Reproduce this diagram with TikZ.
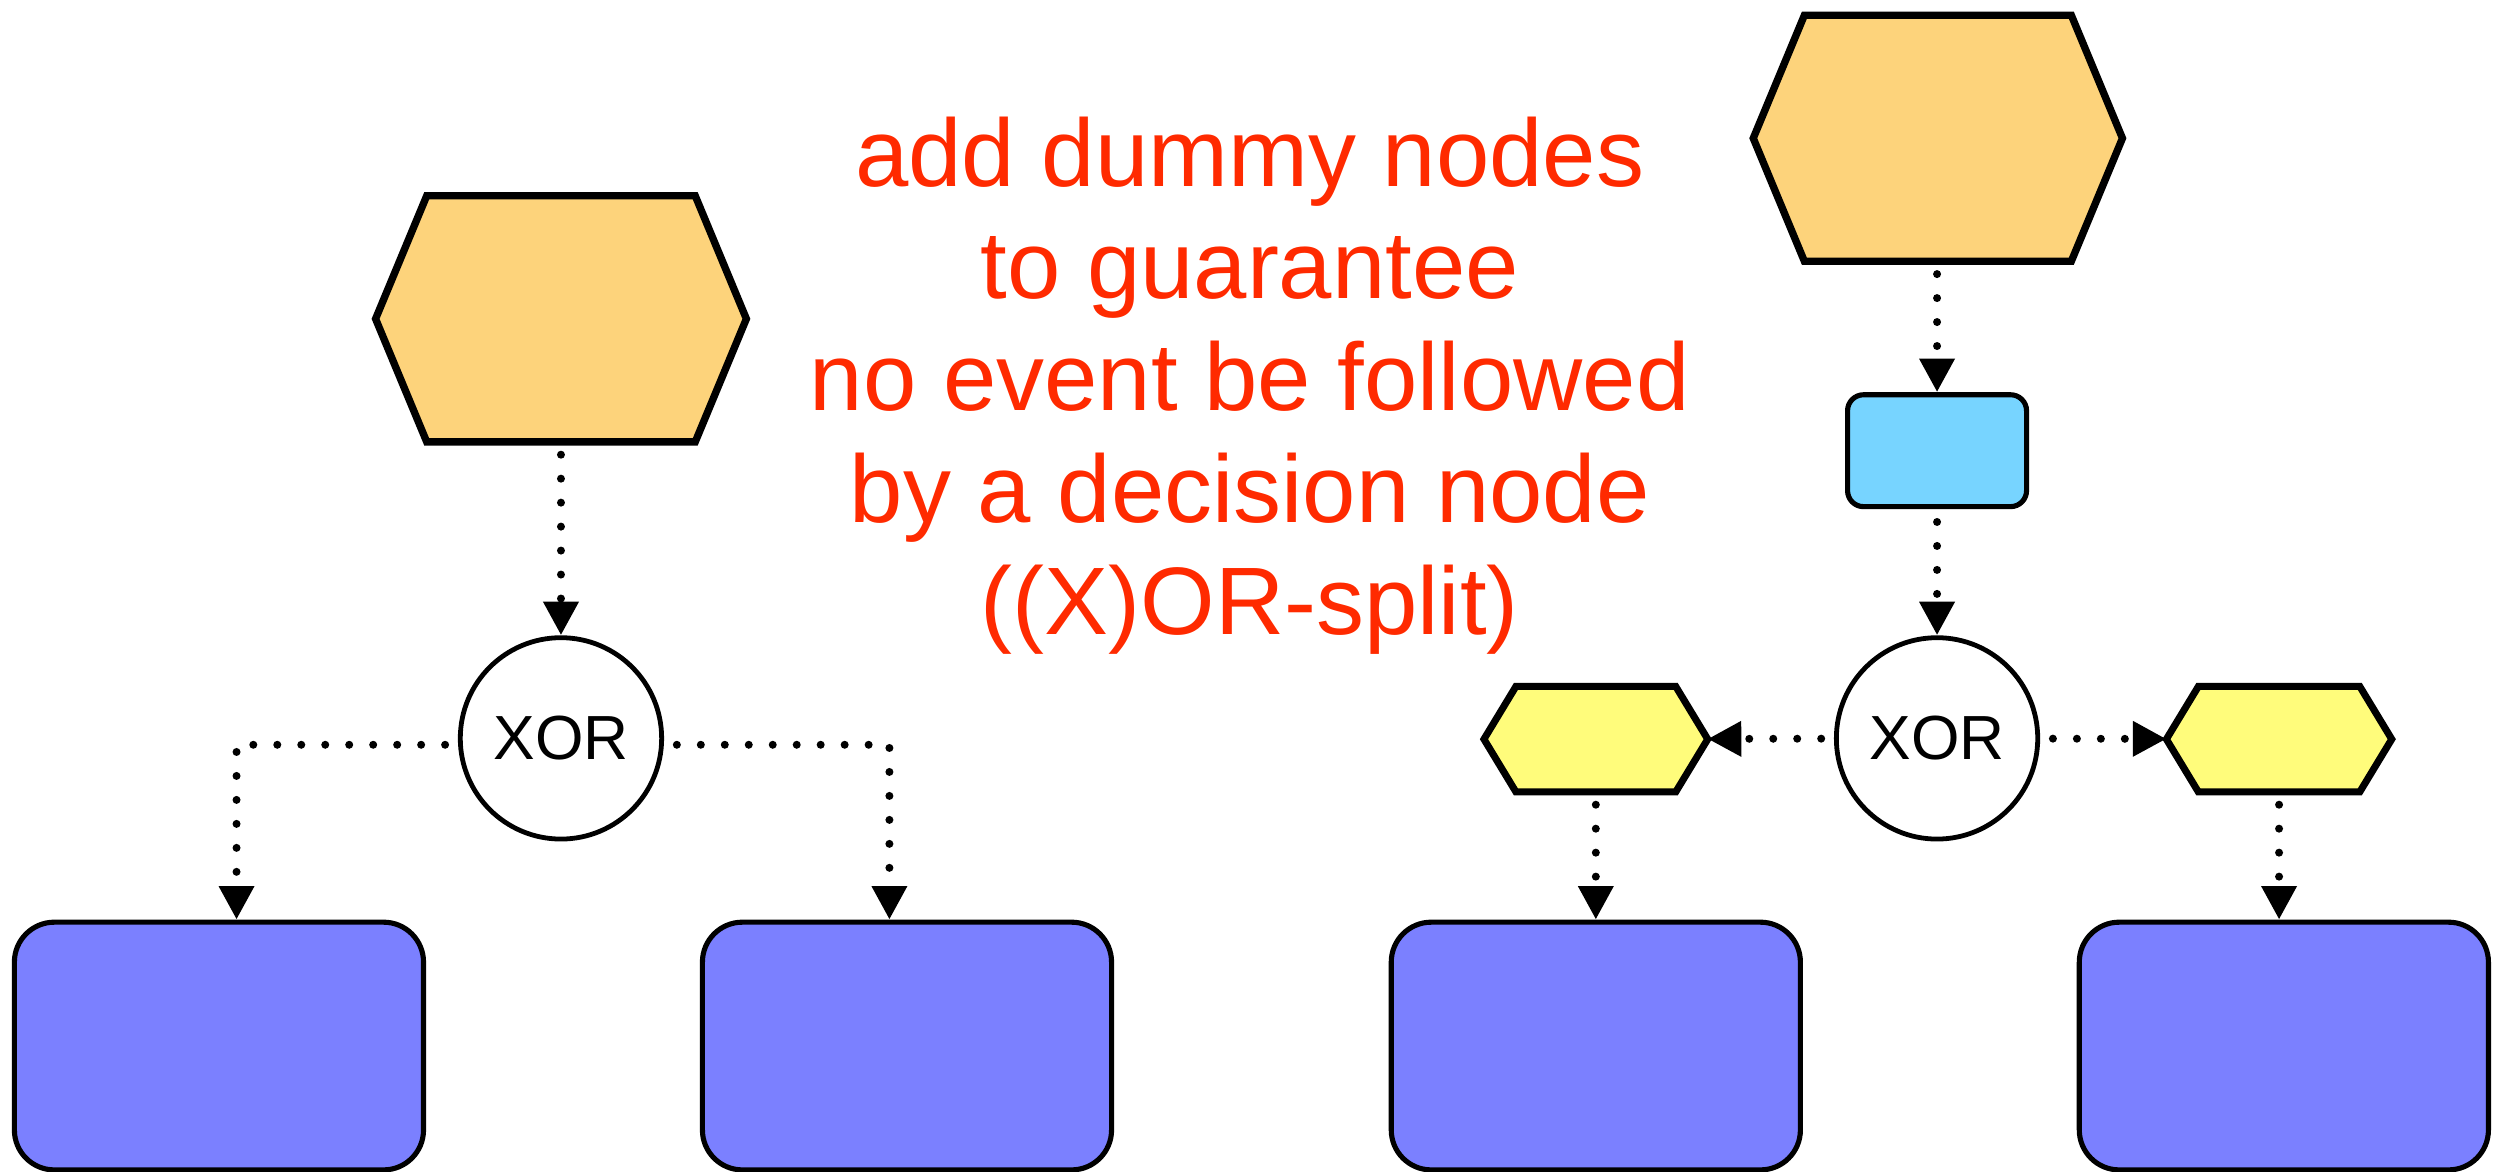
\documentclass[tikz,border=0pt]{standalone}
\usepackage{fontspec}
\setmainfont{Liberation Sans}
\usetikzlibrary{arrows.meta,calc}
\definecolor{evtorange}{HTML}{FDD37B}
\definecolor{funcblue}{HTML}{7B80FF}
\definecolor{dummyblue}{HTML}{77D4FF}
\definecolor{dummyyellow}{HTML}{FFFC7B}
\definecolor{notered}{HTML}{FF2A00}
\newcommand\hexpath[3]{%
  \draw[#3] ([xshift=#2]#1.north west) -- ([xshift=-#2]#1.north east) -- (#1.east)
    -- ([xshift=-#2]#1.south east) -- ([xshift=#2]#1.south west) -- (#1.west) -- cycle;}
\begin{document}
\begin{tikzpicture}[x=0.5pt,y=-0.5pt,
  anchorbox/.style={draw=none, inner sep=0pt, outer sep=0pt, rectangle},
  evthex/.style={line width=2.3pt, line join=miter, fill=evtorange},
  yelhex/.style={line width=2.2pt, line join=miter, fill=dummyyellow},
  conn/.style={line width=2.5pt, dash pattern=on 0pt off 7.5pt, line cap=round,
    shorten <=4pt, -{Triangle[length=10.5pt,width=10.5pt]}},
  xorgate/.style={circle, draw, line width=1.5pt, fill=white, minimum size=63pt,
    inner sep=0pt, font=\fontsize{19.5pt}{23pt}\selectfont},
  funcbox/.style={rectangle, rounded corners=12.5pt, draw, line width=1.6pt,
    fill=funcblue, minimum width=128pt, minimum height=77.5pt},
  dummyfunc/.style={rectangle, rounded corners=5pt, draw, line width=1.6pt,
    fill=dummyblue, minimum width=56pt, minimum height=35pt},
]
\useasboundingbox (0,0) rectangle (1568,733);

% event hexagons
\node[anchorbox, minimum width=116pt, minimum height=77pt] (evL) at (351,199.5) {};
\hexpath{evL}{16pt}{evthex}
\node[anchorbox, minimum width=115.5pt, minimum height=77pt] (evR) at (1212.5,86.5) {};
\hexpath{evR}{16pt}{evthex}

% dummy function
\node[dummyfunc] (dum) at (1212,282) {};

% XOR gates
\node[xorgate] (xorL) at (351,462) {XOR};
\node[xorgate] (xorR) at (1212,462) {XOR};

% dummy events
\node[anchorbox, minimum width=70pt, minimum height=33pt] (yelL) at (998.5,462.5) {};
\hexpath{yelL}{10pt}{yelhex}
\node[anchorbox, minimum width=70.5pt, minimum height=33pt] (yelR) at (1426,462.5) {};
\hexpath{yelR}{10pt}{yelhex}

% functions
\node[funcbox] (f1) at (137,654.5) {};
\node[funcbox] (f2) at (567.5,654.5) {};
\node[funcbox] (f3) at (998.5,654.5) {};
\node[funcbox] (f4) at (1429,654.5) {};

% connectors
\draw[conn] (evL) -- (xorL);
\draw[conn] (dum.north |- evR.south) -- (dum.north);
\draw[conn] (dum) -- (xorR);
\draw[conn] ([yshift=-2pt]xorL.west) -| ([xshift=5.5pt]f1.north);
\draw[conn] ([yshift=-2pt]xorL.east) -| ([xshift=-5.5pt]f2.north);
\draw[conn] (xorR) -- (yelL);
\draw[conn] (xorR) -- (yelR);
\draw[conn] (yelL) -- (f3);
\draw[conn] (yelR.south) -- (yelR.south |- f4.north);

% note
\node[anchor=north, inner sep=0pt, align=center, text=notered,
  font=\fontsize{30pt}{35pt}\selectfont] (note) at (782,73)
  {add dummy nodes\\to guarantee\\no event be followed\\by a decision node\\((X)OR-split)};
\end{tikzpicture}
\end{document}
